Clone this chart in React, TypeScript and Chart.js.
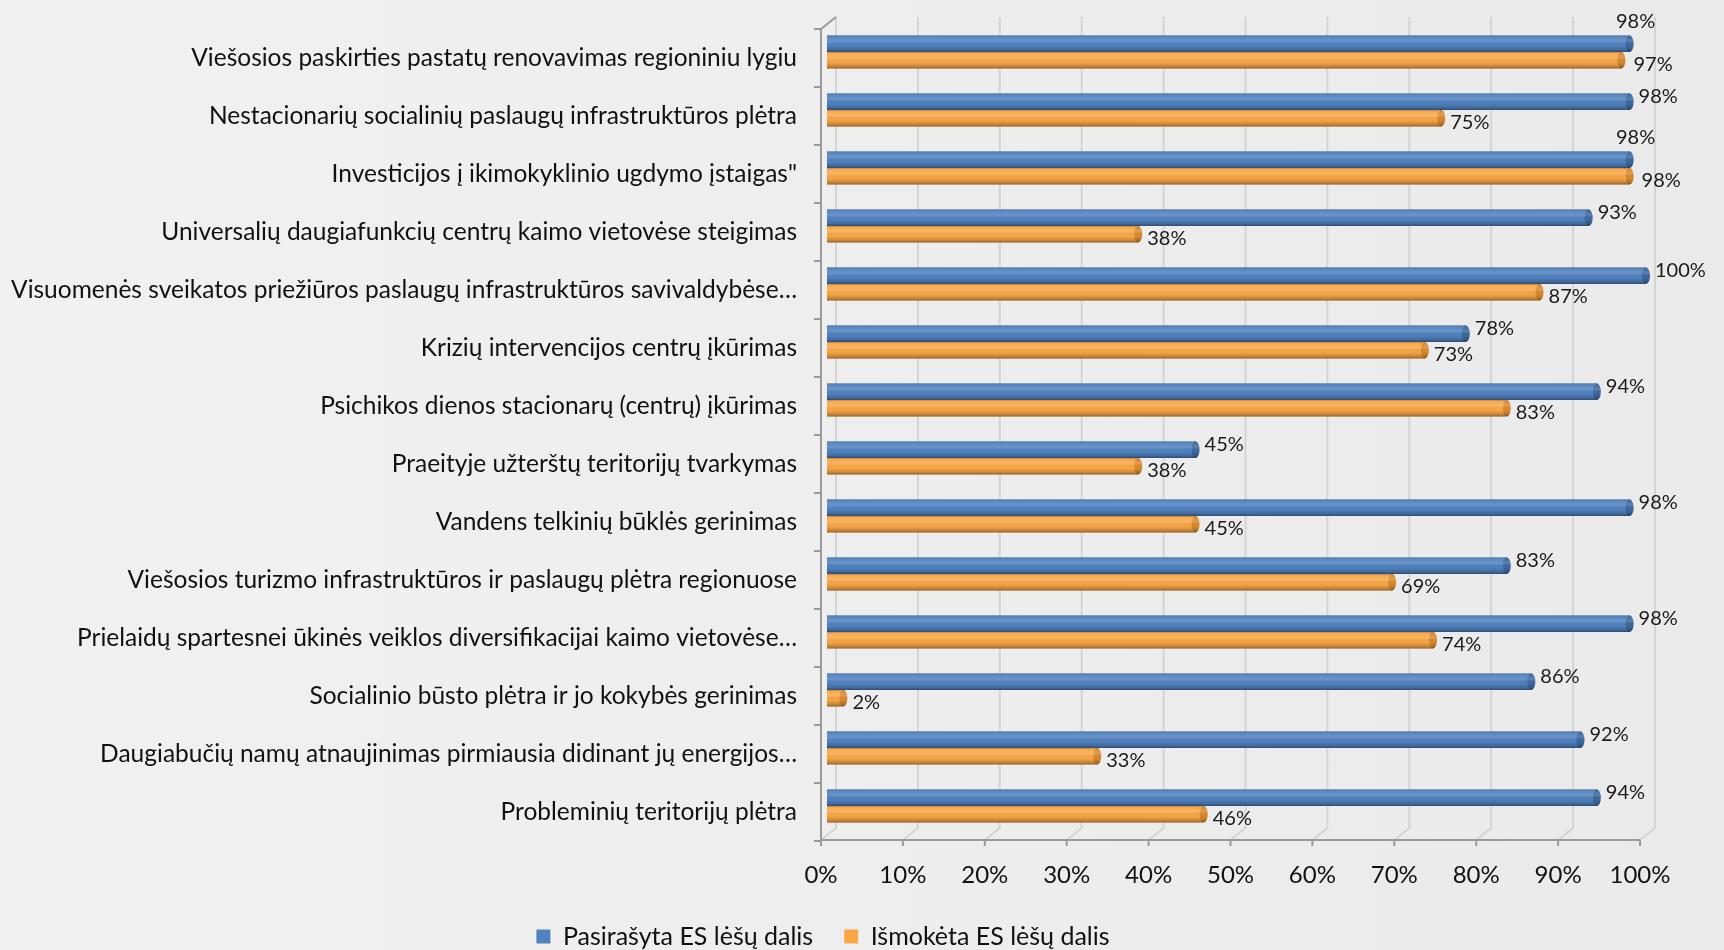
import React, { useEffect, useRef } from "react";
import { Chart, registerables } from "chart.js";

Chart.register(...registerables);

const categories = [
  "Viešosios paskirties pastatų renovavimas regioniniu lygiu",
  "Nestacionarių socialinių paslaugų infrastruktūros plėtra",
  "Investicijos į ikimokyklinio ugdymo įstaigas\"",
  "Universalių daugiafunkcių centrų kaimo vietovėse steigimas",
  "Visuomenės sveikatos priežiūros paslaugų infrastruktūros savivaldybėse…",
  "Krizių intervencijos centrų įkūrimas",
  "Psichikos dienos stacionarų (centrų) įkūrimas",
  "Praeityje užterštų teritorijų tvarkymas",
  "Vandens telkinių būklės gerinimas",
  "Viešosios turizmo infrastruktūros ir paslaugų plėtra regionuose",
  "Prielaidų spartesnei ūkinės veiklos diversifikacijai kaimo vietovėse…",
  "Socialinio būsto plėtra ir jo kokybės gerinimas",
  "Daugiabučių namų atnaujinimas pirmiausia didinant jų energijos…",
  "Probleminių teritorijų plėtra",
];

const signedShare = [98, 98, 98, 93, 100, 78, 94, 45, 98, 83, 98, 86, 92, 94];
const paidShare = [97, 75, 98, 38, 87, 73, 83, 38, 45, 69, 74, 2, 33, 46];
const seriesNames = ["Pasirašyta ES lėšų dalis", "Išmokėta ES lėšų dalis"];
const xTickValues = [0, 10, 20, 30, 40, 50, 60, 70, 80, 90, 100];

const FONT = "Lato, 'Noto Sans', sans-serif";
const BLUE = "#5082C0";
const ORANGE = "#F9A746";
const BLUE_CAP = "#3E689F";
const ORANGE_CAP = "#D98A2E";

const frame3d = {
  id: "frame3d",
  beforeDatasetsDraw(chart: any) {
    const { ctx, chartArea: a, scales } = chart;
    const x = scales.x;
    ctx.save();
    ctx.strokeStyle = "#d4d4d4";
    ctx.lineWidth = 2;
    ctx.beginPath();
    xTickValues.forEach((v) => {
      const px = x.getPixelForValue(v);
      const bx = px + 9;
      const fx = px - 6;
      ctx.moveTo(bx, a.top - 6);
      ctx.lineTo(bx, a.bottom - 7);
      ctx.lineTo(fx, a.bottom + 5);
    });
    ctx.stroke();
    const x0f = x.getPixelForValue(0) - 6;
    const x100f = x.getPixelForValue(100) - 6;
    ctx.strokeStyle = "#9b9b9b";
    ctx.lineWidth = 2;
    ctx.beginPath();
    ctx.moveTo(x0f + 15, a.top - 6);
    ctx.lineTo(x0f, a.top + 6);
    ctx.lineTo(x0f, a.bottom + 5);
    ctx.lineTo(x100f, a.bottom + 5);
    const band = (a.bottom - a.top) / categories.length;
    for (let k = 0; k <= categories.length; k++) {
      const yb = a.top + k * band + 6;
      ctx.moveTo(x0f - 7, yb);
      ctx.lineTo(x0f, yb);
    }
    xTickValues.forEach((v) => {
      const fx = x.getPixelForValue(v) - 6;
      ctx.moveTo(fx, a.bottom + 5);
      ctx.lineTo(fx, a.bottom + 11);
    });
    ctx.stroke();
    ctx.restore();
  },
};

const cylinderShade = {
  id: "cylinderShade",
  afterDatasetsDraw(chart: any) {
    const { ctx } = chart;
    ctx.save();
    chart.data.datasets.forEach((ds: any, di: number) => {
      const meta = chart.getDatasetMeta(di);
      const cap = di === 0 ? BLUE_CAP : ORANGE_CAP;
      meta.data.forEach((el: any) => {
        const { x: ex, y: ey, base, height: h } = el.getProps(["x", "y", "base", "height"], true);
        const top = ey - h / 2;
        const left = Math.min(base, ex);
        const w = Math.abs(ex - base);
        const g = ctx.createLinearGradient(0, top, 0, top + h);
        g.addColorStop(0, "rgba(0,0,0,0.28)");
        g.addColorStop(0.12, "rgba(255,255,255,0.05)");
        g.addColorStop(0.35, "rgba(255,255,255,0.16)");
        g.addColorStop(0.6, "rgba(0,0,0,0.0)");
        g.addColorStop(0.85, "rgba(0,0,0,0.18)");
        g.addColorStop(1, "rgba(0,0,0,0.42)");
        ctx.fillStyle = g;
        ctx.fillRect(left, top, w, h);
        ctx.beginPath();
        ctx.ellipse(ex, ey, 4, h / 2, 0, 0, Math.PI * 2);
        ctx.fillStyle = cap;
        ctx.fill();
        ctx.fillStyle = g;
        ctx.fill();
      });
    });
    ctx.restore();
  },
};

const valueLabels = {
  id: "valueLabels",
  afterDatasetsDraw(chart: any) {
    const { ctx } = chart;
    ctx.save();
    ctx.font = `20px ${FONT}`;
    ctx.fillStyle = "#1a1a1a";
    ctx.textBaseline = "middle";
    const d0 = chart.data.datasets[0].data as number[];
    const d1 = chart.data.datasets[1].data as number[];
    chart.data.datasets.forEach((ds: any, di: number) => {
      const meta = chart.getDatasetMeta(di);
      meta.data.forEach((el: any, i: number) => {
        const { x: ex, y: ey } = el.getProps(["x", "y"], true);
        const v = ds.data[i] as number;
        const close = Math.abs(d0[i] - d1[i]) <= 3;
        const text = `${v}%`;
        if (di === 0) {
          if (close) {
            ctx.textAlign = "center";
            ctx.fillText(text, ex + 6, ey - 22);
          } else {
            ctx.textAlign = "left";
            ctx.fillText(text, ex + 9, ey - 5);
          }
        } else {
          ctx.textAlign = "left";
          ctx.fillText(text, ex + (close ? 12 : 9), ey + 4);
        }
      });
    });
    ctx.restore();
  },
};

export default function App() {
  const canvasRef = useRef<HTMLCanvasElement | null>(null);

  useEffect(() => {
    if (!canvasRef.current) return;
    const chart = new Chart(canvasRef.current, {
      type: "bar",
      data: {
        labels: categories,
        datasets: [
          { label: seriesNames[0], data: signedShare, backgroundColor: BLUE, borderWidth: 0 },
          { label: seriesNames[1], data: paidShare, backgroundColor: ORANGE, borderWidth: 0 },
        ],
      },
      options: {
        indexAxis: "y",
        animation: false,
        responsive: false,
        maintainAspectRatio: false,
        datasets: { bar: { categoryPercentage: 0.57, barPercentage: 1 } },
        layout: { padding: { top: 23, right: 78, bottom: 0, left: 0 } },
        scales: {
          x: {
            min: 0,
            max: 100,
            afterFit(scale: any) {
              scale.height = 58;
              scale.paddingLeft = 0;
              scale.paddingRight = 0;
            },
            grid: { display: false, drawTicks: false },
            border: { display: false },
            ticks: {
              stepSize: 10,
              padding: 26,
              labelOffset: -6,
              color: "#111",
              font: { family: FONT, size: 24 },
              callback: (v: any) => `${v}%`,
            },
          },
          y: {
            afterFit(scale: any) {
              scale.width = 827;
              scale.paddingTop = 0;
              scale.paddingBottom = 0;
            },
            grid: { display: false, drawTicks: false },
            border: { display: false },
            ticks: {
              padding: 30,
              labelOffset: 6,
              color: "#111",
              font: { family: FONT, size: 24.5 },
              autoSkip: false,
            },
          },
        },
        plugins: {
          legend: {
            position: "bottom",
            maxHeight: 57,
            labels: {
              boxWidth: 14,
              boxHeight: 14,
              padding: 31,
              color: "#111",
              font: { family: FONT, size: 25 },
            },
          },
          tooltip: { enabled: false },
        },
      },
      plugins: [frame3d, cylinderShade, valueLabels],
    });
    return () => chart.destroy();
  }, []);

  return (
    <div
      style={{
        position: "fixed",
        left: 0,
        top: 0,
        width: 1724,
        height: 950,
        background: "linear-gradient(90deg, #f1f1f1 0%, #ededed 60%, #eaeaea 100%)",
      }}
    >
      <canvas ref={canvasRef} width={1724} height={950} style={{ display: "block" }} />
    </div>
  );
}
